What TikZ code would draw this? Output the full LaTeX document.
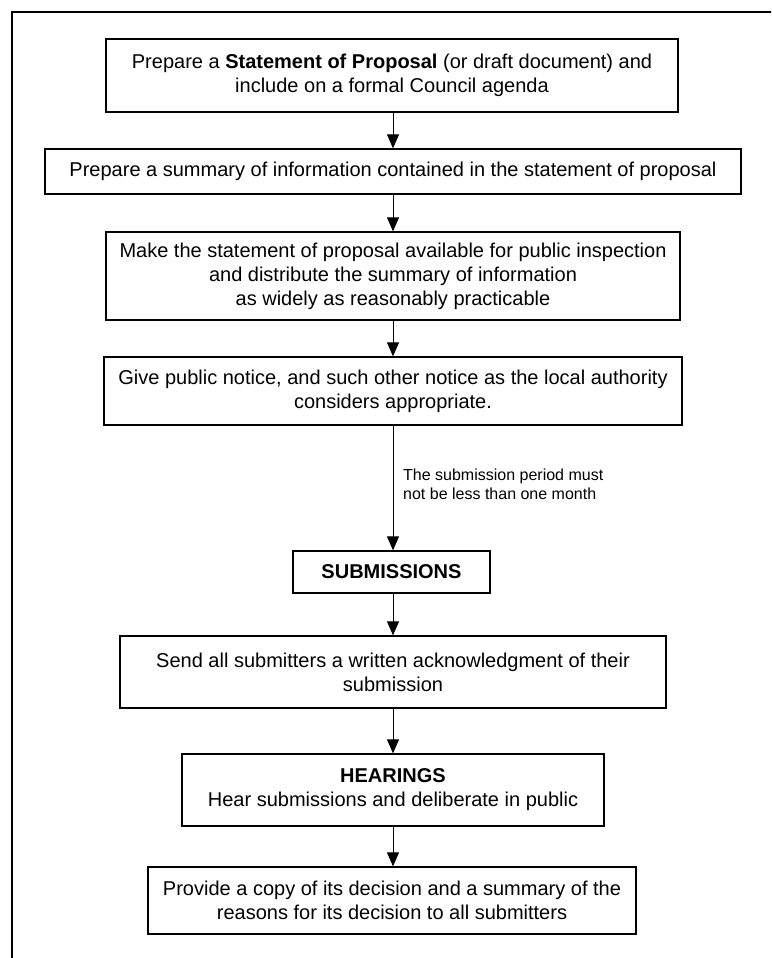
\documentclass[tikz,border=0pt]{standalone}
\usepackage{fontspec}
\setmainfont{Liberation Sans}
\usetikzlibrary{arrows.meta}
\begin{document}
\begin{tikzpicture}[x=1pt,y=-1pt,
  box/.style={draw=black,line width=1.3pt,align=center,inner sep=0pt,
    font=\fontsize{20}{24}\selectfont},
  arr/.style={line width=1pt,-{Triangle[length=14pt,width=12pt]}},
  note/.style={align=left,inner sep=0pt,font=\fontsize{16}{19.5}\selectfont}]
\useasboundingbox (0,0) rectangle (771,958);
\clip (0,0) rectangle (771,958);
\draw[line width=2pt] (12,975) -- (12,12) -- (790,12);

\node[box,minimum width=572pt,minimum height=73pt] (b1) at (392,75.5)
  {Prepare a \textbf{Statement of Proposal} (or draft document) and\\include on a formal Council agenda};
\node[box,minimum width=696pt,minimum height=45pt] (b2) at (393,171.5)
  {Prepare a summary of information contained in the statement of proposal};
\node[box,minimum width=574pt,minimum height=88pt] (b3) at (393,276)
  {Make the statement of proposal available for public inspection\\and distribute the summary of information\\as widely as reasonably practicable};
\node[box,minimum width=578pt,minimum height=68pt] (b4) at (393,391)
  {Give public notice, and such other notice as the local authority\\considers appropriate.};
\node[box,minimum width=197pt,minimum height=42pt] (sub) at (391.5,572)
  {\textbf{SUBMISSIONS}};
\node[box,minimum width=546pt,minimum height=72pt] (ack) at (393,672)
  {Send all submitters a written acknowledgment of their\\submission};
\node[box,minimum width=422pt,minimum height=72pt] (hear) at (393,790)
  {\textbf{HEARINGS}\\Hear submissions and deliberate in public};
\node[box,minimum width=488pt,minimum height=67pt] (dec) at (392,900.5)
  {Provide a copy of its decision and a summary of the\\reasons for its decision to all submitters};

\node[note,anchor=north west] (lbl) at (403,468.5)
  {The submission period must\\not be less than one month};

\draw[arr] (393,0 |- b1.south) -- (393,0 |- b2.north);
\draw[arr] (393,0 |- b2.south) -- (393,0 |- b3.north);
\draw[arr] (393,0 |- b3.south) -- (393,0 |- b4.north);
\draw[arr] (393,0 |- b4.south) -- (393,0 |- sub.north);
\draw[arr] (393,0 |- sub.south) -- (393,0 |- ack.north);
\draw[arr] (393,0 |- ack.south) -- (393,0 |- hear.north);
\draw[arr] (393,0 |- hear.south) -- (393,0 |- dec.north);
\end{tikzpicture}
\end{document}
